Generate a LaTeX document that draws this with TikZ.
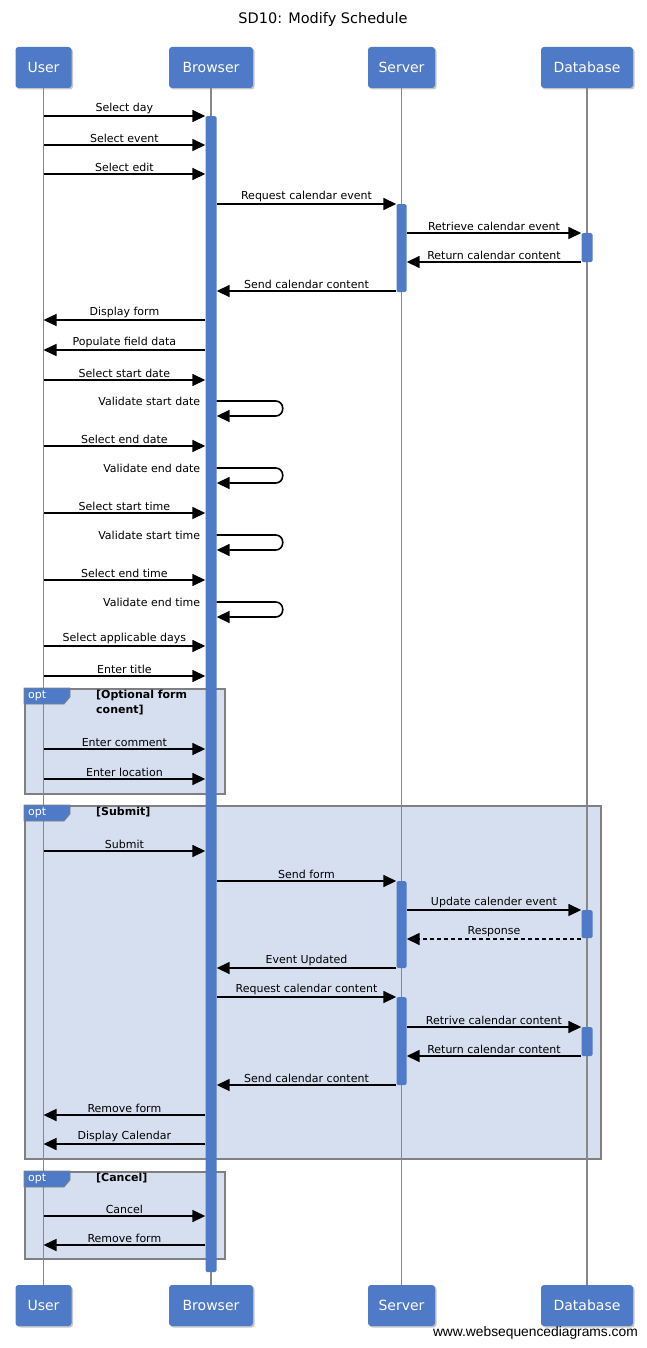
\documentclass[tikz,border=0pt]{standalone}
\usepackage{fontspec}
\setmainfont{DejaVu Sans}
\newfontfamily\wmfont{Liberation Sans}
\usepackage{tikz}
\usetikzlibrary{positioning, arrows.meta, shadows, backgrounds, calc}
\usepackage{xcolor}
\definecolor{wsdblue}{RGB}{79,122,199}
\definecolor{lifegray}{RGB}{136,136,136}
\definecolor{framegray}{RGB}{128,128,128}
\definecolor{framefill}{RGB}{214,223,240}
\tikzset{
  part/.style={rectangle,fill=wsdblue,rounded corners=3pt,minimum height=41pt,inner sep=0pt,text=white,font=\fontsize{14}{16}\selectfont,drop shadow={shadow xshift=1.5pt,shadow yshift=-1.5pt,opacity=0.45}},
  life/.style={draw=lifegray,line width=1.6pt},
  act/.style={rectangle,fill=wsdblue,rounded corners=1.5pt,minimum width=11pt,inner sep=0pt,anchor=north},
  msg/.style={-{Triangle[length=13pt,width=12pt]},line width=1.6pt,black},
  ret/.style={msg,dash pattern=on 4pt off 3pt},
  slf/.style={msg,rounded corners=7pt},
  lbl/.style={above,inner sep=1.5pt,font=\fontsize{11}{12}\selectfont},
  slflbl/.style={anchor=east,inner sep=0pt,font=\fontsize{11}{12}\selectfont},
  frame/.style={rectangle,draw=framegray,fill=framefill,line width=1.5pt,inner sep=0pt,anchor=north west},
  tab/.style={fill=wsdblue,draw=framegray,line width=0.8pt},
  tabtxt/.style={anchor=west,text=white,font=\fontsize{11}{12}\selectfont,inner sep=0pt},
  guard/.style={anchor=north west,align=left,font=\bfseries\fontsize{11}{15}\selectfont,inner sep=0pt},
}

\begin{document}
\begin{tikzpicture}[x=1pt,y=-1pt]
\useasboundingbox (0,0) rectangle (647,1348);

% Title
\node[font=\fontsize{14.5}{17}\selectfont](title) at (323,20){SD10: Modify Schedule};

% Participants (top / bottom)
\node[part,minimum width=56pt](user)  at (43.5,67.5){User};
\node[part,minimum width=84pt](brow)  at (211,67.5){Browser};
\node[part,minimum width=67pt](serv)  at (401.5,67.5){Server};
\node[part,minimum width=92pt](db)    at (587,67.5){Database};
\node[part,minimum width=56pt](userb) at (43.5,1305.5){User};
\node[part,minimum width=84pt](browb) at (211,1305.5){Browser};
\node[part,minimum width=67pt](servb) at (401.5,1305.5){Server};
\node[part,minimum width=92pt](dbb)   at (587,1305.5){Database};

% Frames and lifelines
\begin{pgfonlayer}{background}
  \node[frame,minimum width=200pt,minimum height=105pt](opt1) at (24,688){};
  \node[frame,minimum width=576pt,minimum height=353pt](opt2) at (24,805){};
  \node[frame,minimum width=200pt,minimum height=87pt](opt3)  at (24,1171){};
  \draw[life](user.south)--(userb.north);
  \draw[life](brow.south)--(browb.north);
  \draw[life](serv.south)--(servb.north);
  \draw[life](db.south)--(dbb.north);
\end{pgfonlayer}

% Activation bars
\node[act,minimum height=1156pt](bbar) at (211,116){};
\node[act,minimum width=10pt,minimum height=88pt](sbar1) at (401.5,204){};
\node[act,minimum width=10pt,minimum height=87pt](sbar2) at (401.5,881){};
\node[act,minimum width=10pt,minimum height=88pt](sbar3) at (401.5,997){};
\node[act,minimum height=29pt](dbar1) at (587,233){};
\node[act,minimum height=28pt](dbar2) at (587,910){};
\node[act,minimum height=29pt](dbar3) at (587,1027){};

% Frame tabs and guards
\draw[tab](opt1.north west)--++(46,0)--++(0,9)--++(-6,7)--++(-40,0)--cycle;
\node[tabtxt](opt1t) at ([shift={(4,8)}]opt1.north west){opt};
\node[guard](opt1g) at ([shift={(72,2)}]opt1.north west){[Optional form\\conent]};
\draw[tab](opt2.north west)--++(46,0)--++(0,9)--++(-6,7)--++(-40,0)--cycle;
\node[tabtxt](opt2t) at ([shift={(4,8)}]opt2.north west){opt};
\node[guard](opt2g) at ([shift={(72,2)}]opt2.north west){[Submit]};
\draw[tab](opt3.north west)--++(46,0)--++(0,9)--++(-6,7)--++(-40,0)--cycle;
\node[tabtxt](opt3t) at ([shift={(4,8)}]opt3.north west){opt};
\node[guard](opt3g) at ([shift={(72,2)}]opt3.north west){[Cancel]};

% Messages: load event
\draw[msg](user|-0,116)--node[lbl]{Select day}(bbar.west|-0,116);
\draw[msg](user|-0,145)--node[lbl]{Select event}(bbar.west|-0,145);
\draw[msg](user|-0,174)--node[lbl]{Select edit}(bbar.west|-0,174);
\draw[msg](bbar.east|-0,204)--node[lbl]{Request calendar event}(sbar1.west|-0,204);
\draw[msg](sbar1.east|-0,233)--node[lbl]{Retrieve calendar event}(dbar1.west|-0,233);
\draw[msg](dbar1.west|-0,262)--node[lbl]{Return calendar content}(sbar1.east|-0,262);
\draw[msg](sbar1.west|-0,291)--node[lbl]{Send calendar content}(bbar.east|-0,291);
\draw[msg](bbar.west|-0,320)--node[lbl]{Display form}(user|-0,320);
\draw[msg](bbar.west|-0,350)--node[lbl]{Populate field data}(user|-0,350);

% Messages: dates and times
\draw[msg](user|-0,380)--node[lbl]{Select start date}(bbar.west|-0,380);
\draw[slf](bbar.east|-0,401)--++(66,0)|-(bbar.east|-0,416);
\node[slflbl](vsd) at ([xshift=-5pt]bbar.west|-0,401){Validate start date};
\draw[msg](user|-0,446)--node[lbl]{Select end date}(bbar.west|-0,446);
\draw[slf](bbar.east|-0,468)--++(66,0)|-(bbar.east|-0,483);
\node[slflbl](ved) at ([xshift=-5pt]bbar.west|-0,468){Validate end date};
\draw[msg](user|-0,513)--node[lbl]{Select start time}(bbar.west|-0,513);
\draw[slf](bbar.east|-0,535)--++(66,0)|-(bbar.east|-0,550);
\node[slflbl](vst) at ([xshift=-5pt]bbar.west|-0,535){Validate start time};
\draw[msg](user|-0,580)--node[lbl]{Select end time}(bbar.west|-0,580);
\draw[slf](bbar.east|-0,602)--++(66,0)|-(bbar.east|-0,617);
\node[slflbl](vet) at ([xshift=-5pt]bbar.west|-0,602){Validate end time};
\draw[msg](user|-0,646)--node[lbl]{Select applicable days}(bbar.west|-0,646);
\draw[msg](user|-0,676)--node[lbl]{Enter title}(bbar.west|-0,676);

% opt: optional form content
\draw[msg](user|-0,749)--node[lbl]{Enter comment}(bbar.west|-0,749);
\draw[msg](user|-0,779)--node[lbl]{Enter location}(bbar.west|-0,779);

% opt: submit
\draw[msg](user|-0,851)--node[lbl]{Submit}(bbar.west|-0,851);
\draw[msg](bbar.east|-0,881)--node[lbl]{Send form}(sbar2.west|-0,881);
\draw[msg](sbar2.east|-0,910)--node[lbl]{Update calender event}(dbar2.west|-0,910);
\draw[ret](dbar2.west|-0,939)--node[lbl]{Response}(sbar2.east|-0,939);
\draw[msg](sbar2.west|-0,968)--node[lbl]{Event Updated}(bbar.east|-0,968);
\draw[msg](bbar.east|-0,997)--node[lbl]{Request calendar content}(sbar3.west|-0,997);
\draw[msg](sbar3.east|-0,1027)--node[lbl]{Retrive calendar content}(dbar3.west|-0,1027);
\draw[msg](dbar3.west|-0,1056)--node[lbl]{Return calendar content}(sbar3.east|-0,1056);
\draw[msg](sbar3.west|-0,1085)--node[lbl]{Send calendar content}(bbar.east|-0,1085);
\draw[msg](bbar.west|-0,1115)--node[lbl]{Remove form}(user|-0,1115);
\draw[msg](bbar.west|-0,1144)--node[lbl]{Display Calendar}(user|-0,1144);

% opt: cancel
\draw[msg](user|-0,1216)--node[lbl]{Cancel}(bbar.west|-0,1216);
\draw[msg](bbar.west|-0,1245)--node[lbl]{Remove form}(user|-0,1245);

% Watermark
\node[anchor=east,inner sep=0pt,font=\wmfont\fontsize{13.8}{15}\selectfont](wm) at (638,1333){www.websequencediagrams.com};

\end{tikzpicture}
\end{document}
